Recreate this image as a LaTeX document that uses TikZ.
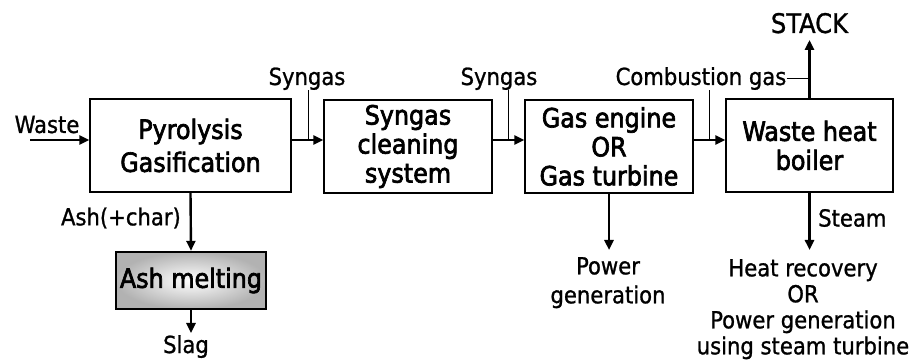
\documentclass[tikz,border=0pt]{standalone}
\usepackage{fontspec}
\setmainfont{DejaVu Sans Condensed}
\newfontfamily\boxfont[FakeBold=2.5]{DejaVu Sans Condensed}
\newfontfamily\lblfont[FakeBold=1]{DejaVu Sans Condensed}
\usetikzlibrary{arrows.meta}
\begin{document}
\begin{tikzpicture}[x=1pt,y=-1pt,
  box/.style={draw=black, line width=1.2pt, fill=white, minimum height=93pt,
    inner sep=0pt, align=center, font=\boxfont\fontsize{26.5}{29}\selectfont},
  lbl/.style={font=\lblfont\fontsize{23.5}{29}\selectfont, inner sep=0pt, align=center},
  flow/.style={line width=2.4pt, -{Triangle[length=10pt,width=9pt]}},
  lead/.style={line width=0.9pt}]
\useasboundingbox (0,0) rectangle (914,363);
% main boxes
\node[box, minimum width=201pt, font=\boxfont\fontsize{26.5}{33}\selectfont] (b1) at (190.5,145.5) {Pyrolysis\\Gasification};
\node[box, minimum width=168pt] (b2) at (408,146.5) {Syngas\\cleaning\\system};
\node[box, minimum width=168pt] (b3) at (609,146.5) {Gas engine\\OR\\Gas turbine};
\node[box, minimum width=167pt] (b4) at (809.5,145.5) {Waste heat\\boiler};
\node[draw=black, line width=2.4pt, shading=radial, inner color=white, middle color=white, outer color=gray!60,
  minimum width=150pt, minimum height=57pt, inner sep=0pt, font=\boxfont\fontsize{26.5}{29}\selectfont]
  (am) at (191,280.5) {Ash melting};
% labels
\node[lbl, anchor=base] (waste) at (47,133) {Waste};
\node[lbl, anchor=base] (s1) at (307,85) {Syngas};
\node[lbl, anchor=base] (s2) at (499,85) {Syngas};
\node[lbl, anchor=base] (cg) at (701,85) {Combustion gas};
\node[inner sep=0pt, font=\lblfont\fontsize{27}{29}\selectfont, anchor=base] (stack) at (809.5,33) {STACK};
\node[lbl, anchor=east] (ash) at (181,218) {Ash(+char)};
\node[lbl, anchor=west] (steam) at (818,218) {Steam};
\node[lbl, anchor=north] (slag) at (186,335) {Slag};
\node[lbl, anchor=north] (pg) at (608,257) {Power\\generation};
\node[lbl, anchor=north, font=\lblfont\fontsize{23.5}{26}\selectfont] (hr) at (803,259)
  {Heat recovery\\OR\\Power generation\\using steam turbine};
% flow line level and junctions
\coordinate (fl) at (0,140);
\coordinate (win) at (30,140);
\coordinate (j1) at (308,140);
\coordinate (j2) at (508,140);
\coordinate (j3) at (709,140);
% flow arrows
\draw[flow] (win) -- (b1.west |- fl);
\draw[flow] (b1.east |- fl) -- (b2.west |- fl);
\draw[flow] (b2.east |- fl) -- (b3.west |- fl);
\draw[flow] (b3.east |- fl) -- (b4.west |- fl);
\draw[flow, shorten >=5pt] (b4.north) -- (stack.north |- 0,35);
\draw[flow] (b1.south) -- (am.north);
\draw[flow, shorten >=2pt] (am.south) -- (am.south |- slag.north);
\draw[flow, shorten >=7pt] (b3.south) -- (b3.south |- pg.north);
\draw[flow, shorten >=9pt] (b4.south) -- (b4.south |- hr.north);
% leaders
\draw[lead] (s1.south -| j1) -- (j1);
\draw[lead] (s2.south -| j2) -- (j2);
\draw[lead] (cg.south -| j3) -- (j3);
\draw[lead] (cg.east) -- (cg.east -| b4.north);
\end{tikzpicture}
\end{document}
